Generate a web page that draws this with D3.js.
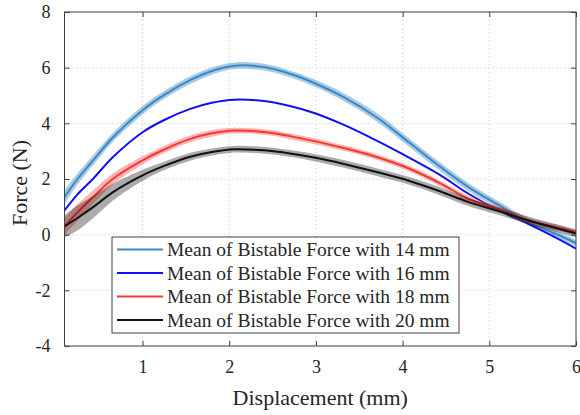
<!DOCTYPE html>
<html>
<head>
<meta charset="utf-8">
<script src="https://cdn.jsdelivr.net/npm/d3@7"></script>
<style>
  body { margin: 0; background: #fff; }
  svg text { font-family: "Liberation Serif", "Times New Roman", serif; fill: #262626; }
</style>
</head>
<body>
<div class="force-viz"></div>
<script>
// displacement samples (mm)
const displacement = [0.1, 0.25, 0.43, 0.66, 1.0, 1.25, 1.55, 1.8, 2.06, 2.4, 2.7, 2.98, 3.31, 3.7, 4.08, 4.43, 4.76, 5.15, 5.45, 5.75, 6.0];

// mean force (N) for each bistable length
const force14 = [1.35, 2.0, 2.67, 3.5, 4.47, 5.02, 5.55, 5.88, 6.07, 6.02, 5.78, 5.45, 4.96, 4.22, 3.3, 2.45, 1.71, 0.99, 0.45, 0.05, -0.3];
const force16 = [0.87, 1.45, 2.01, 2.79, 3.68, 4.12, 4.52, 4.74, 4.85, 4.8, 4.62, 4.37, 3.96, 3.38, 2.76, 2.15, 1.47, 0.81, 0.39, -0.08, -0.5];
const force18 = [0.3, 0.8, 1.35, 2.01, 2.67, 3.06, 3.44, 3.64, 3.74, 3.69, 3.54, 3.36, 3.12, 2.79, 2.37, 1.85, 1.29, 0.87, 0.51, 0.28, 0.09];
const force20 = [0.3, 0.6, 0.99, 1.53, 2.13, 2.47, 2.8, 2.97, 3.07, 3.03, 2.92, 2.77, 2.55, 2.25, 1.93, 1.56, 1.17, 0.81, 0.51, 0.25, 0.04];

// spread of the individual runs around the mean (N)
const spread14 = [0.25, 0.2, 0.18, 0.16, 0.15, 0.14, 0.14, 0.13, 0.12, 0.12, 0.12, 0.13, 0.14, 0.15, 0.15, 0.15, 0.14, 0.13, 0.12, 0.12, 0.12];
const spread18 = [0.3, 0.3, 0.25, 0.2, 0.15, 0.13, 0.12, 0.12, 0.1, 0.1, 0.1, 0.1, 0.1, 0.1, 0.1, 0.1, 0.1, 0.1, 0.1, 0.1, 0.1];
const spread20 = [0.4, 0.45, 0.4, 0.3, 0.2, 0.15, 0.14, 0.13, 0.12, 0.12, 0.12, 0.13, 0.14, 0.14, 0.14, 0.14, 0.14, 0.14, 0.14, 0.14, 0.14];

const seriesNames = [
  "Mean of Bistable Force with 14 mm",
  "Mean of Bistable Force with 16 mm",
  "Mean of Bistable Force with 18 mm",
  "Mean of Bistable Force with 20 mm"
];

const xTicks = [1, 2, 3, 4, 5, 6];
const yTicks = [-4, -2, 0, 2, 4, 6, 8];

const series = [
  {name: seriesNames[0], values: force14, spread: spread14, color: "#3c88c4", band: "rgba(95,160,210,0.55)"},
  {name: seriesNames[1], values: force16, spread: null, color: "#1010f5", band: null},
  {name: seriesNames[2], values: force18, spread: spread18, color: "#f23a30", band: "rgba(255,90,90,0.45)"},
  {name: seriesNames[3], values: force20, spread: spread20, color: "#111111", band: "rgba(0,0,0,0.33)"}
];

const serif = '"Liberation Serif", "Times New Roman", serif';

const margin = {top: 12, right: 4, bottom: 69, left: 64.5},
    width = 580 - margin.left - margin.right,
    height = 415 - margin.top - margin.bottom;

const svg = d3.select(".force-viz")
  .append("svg")
    .attr("width", 580)
    .attr("height", 415)
  .append("g")
    .attr("transform", `translate(${margin.left},${margin.top})`);

const x = d3.scaleLinear().domain([0.1, 6]).range([0, width]);
const y = d3.scaleLinear().domain([-4, 8]).range([height, 0]);

// dotted grid
svg.append("g")
  .selectAll("line")
  .data(xTicks)
  .join("line")
    .attr("x1", d => x(d)).attr("x2", d => x(d))
    .attr("y1", 0).attr("y2", height)
    .attr("stroke", "#c8c8c8")
    .attr("stroke-dasharray", "1,3");
svg.append("g")
  .selectAll("line")
  .data(yTicks)
  .join("line")
    .attr("x1", 0).attr("x2", width)
    .attr("y1", d => y(d)).attr("y2", d => y(d))
    .attr("stroke", "#c8c8c8")
    .attr("stroke-dasharray", "1,3");

svg.append("clipPath").attr("id", "plot-clip")
  .append("rect").attr("width", width).attr("height", height);

const plot = svg.append("g").attr("clip-path", "url(#plot-clip)");

const area = d3.area()
  .x(d => x(d.x))
  .y0(d => y(d.v - d.s))
  .y1(d => y(d.v + d.s))
  .curve(d3.curveCatmullRom);

const line = d3.line()
  .x(d => x(d.x))
  .y(d => y(d.v))
  .curve(d3.curveCatmullRom);

series.forEach(s => {
  const pts = displacement.map((dx, i) => ({x: dx, v: s.values[i], s: s.spread ? s.spread[i] : 0}));
  if (s.band) {
    plot.append("path")
      .datum(pts)
      .attr("d", area)
      .attr("fill", s.band);
  }
  plot.append("path")
    .datum(pts)
    .attr("d", line)
    .attr("fill", "none")
    .attr("stroke", s.color)
    .attr("stroke-width", 2);
});

// axes with inward ticks on all four sides
const axisColor = "#404040";
const styleAxis = g => {
  g.attr("font-family", serif).attr("font-size", 18);
  g.select(".domain").remove();
  g.selectAll(".tick line").attr("stroke", axisColor);
  g.selectAll(".tick text").attr("font-family", serif).attr("fill", "#262626");
};

svg.append("g")
  .attr("transform", `translate(0,${height})`)
  .call(d3.axisBottom(x).tickValues(xTicks).tickSize(-5).tickPadding(14).tickFormat(d => String(d)))
  .call(styleAxis);
svg.append("g")
  .call(d3.axisTop(x).tickValues(xTicks).tickSize(-5).tickFormat(""))
  .call(styleAxis);
svg.append("g")
  .call(d3.axisLeft(y).tickValues(yTicks).tickSize(-5).tickPadding(14).tickFormat(d => String(d)))
  .call(styleAxis);
svg.append("g")
  .attr("transform", `translate(${width},0)`)
  .call(d3.axisRight(y).tickValues(yTicks).tickSize(-5).tickFormat(""))
  .call(styleAxis);

svg.append("rect")
  .attr("width", width)
  .attr("height", height)
  .attr("fill", "none")
  .attr("stroke", axisColor)
  .attr("stroke-width", 1);

// axis labels
svg.append("text")
  .attr("x", width / 2)
  .attr("y", height + 59)
  .attr("text-anchor", "middle")
  .attr("font-size", 22)
  .text("Displacement (mm)");

svg.append("text")
  .attr("transform", "rotate(-90)")
  .attr("x", -height / 2 - 4)
  .attr("y", -38)
  .attr("text-anchor", "middle")
  .attr("font-size", 22)
  .text("Force (N)");

// legend
const legend = svg.append("g")
  .attr("transform", `translate(${112 - margin.left},${237 - margin.top})`);

legend.append("rect")
  .attr("width", 347)
  .attr("height", 96)
  .attr("fill", "#fff")
  .attr("stroke", axisColor)
  .attr("stroke-width", 1);

const rows = legend.selectAll("g.row")
  .data(series)
  .join("g")
    .attr("class", "row")
    .attr("transform", (d, i) => `translate(0,${12.5 + i * 23.5})`);

rows.append("line")
  .attr("x1", 5).attr("x2", 51)
  .attr("stroke", d => d.color)
  .attr("stroke-width", 2);

rows.append("text")
  .attr("x", 55)
  .attr("y", 6.5)
  .attr("font-size", 19.5)
  .attr("fill", "#1a1a1a")
  .text(d => d.name);
</script>
</body>
</html>
